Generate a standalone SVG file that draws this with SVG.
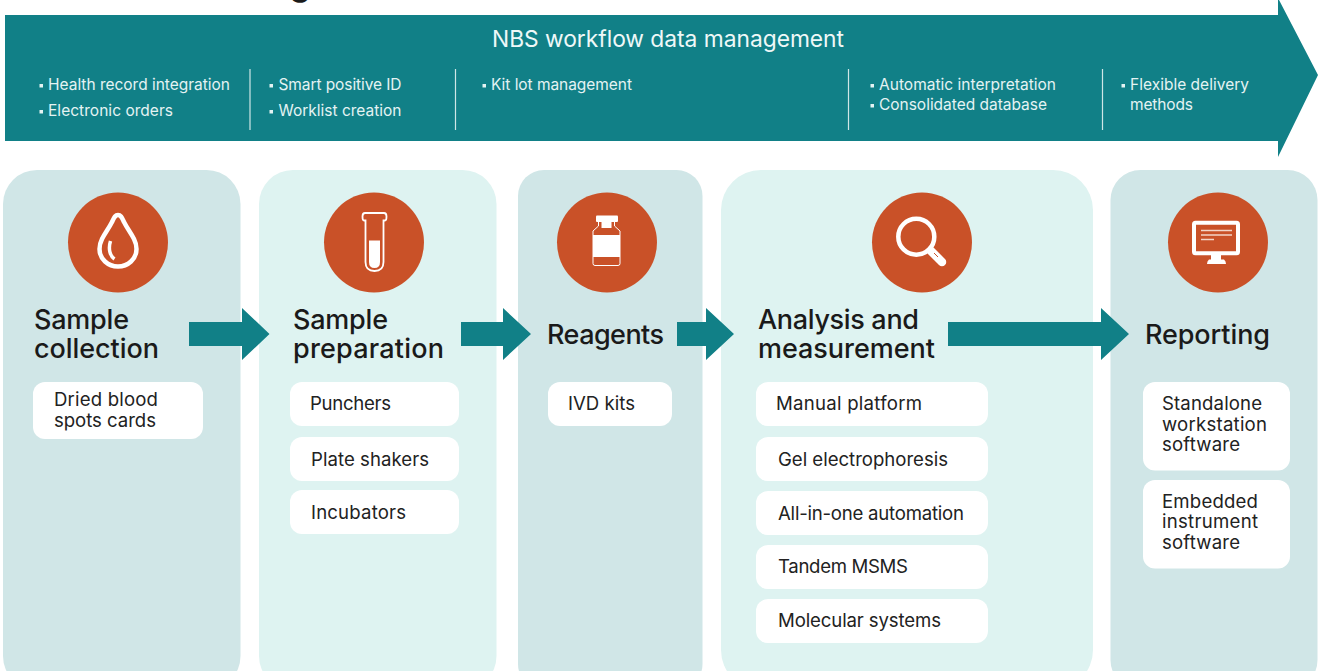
<svg xmlns="http://www.w3.org/2000/svg" width="1322" height="671" viewBox="0 0 1322 671">
<style>
text{font-family:"Inter","Liberation Sans",sans-serif;}
.banner{fill:#118087}
.pd{fill:#d0e6e7}.pl{fill:#def3f1}
.c{fill:#c95128}
.h{font-size:27px;fill:#1a1a1a;font-weight:500}
.i{font-size:18.6px;fill:#222}
.b{font-size:15.500px;fill:#e4f3f3}
.t{font-size:22.800px;fill:#eef8f8}
.box{fill:#fff}
.sep{stroke:#cfe6e6;stroke-width:1.2}
.bu{fill:#e4f3f3}
.w{fill:none;stroke:#fff}
.wf{fill:#fff}
.arrow{fill:#118087}
</style>
<rect width="1322" height="671" fill="#fff"/>
<text x="289" y="-5" font-size="36" fill="#1a1a1a">g</text>
<g id="banner">
<path class="banner" d="M5 15H1278V-2L1318 75L1278 157V141H5Z"/>
<text class="t" x="492" y="47" textLength="352">NBS workflow data management</text>
<path class="bu" d="M39.500 84h3.500v3.500h-3.500zM39.500 110h3.500v3.500h-3.500zM269.500 84h3.500v3.500h-3.500zM269.500 110h3.500v3.500h-3.500zM482.500 84h3.500v3.500h-3.500zM870.500 84h3.500v3.500h-3.500zM870.500 104h3.500v3.500h-3.500zM1121.500 84h3.500v3.500h-3.500z"/>
<text class="b" x="48" y="90" textLength="182">Health record integration</text>
<text class="b" x="48" y="116" textLength="125">Electronic orders</text>
<text class="b" x="278.500" y="90" textLength="123">Smart positive ID</text>
<text class="b" x="278.500" y="116" textLength="123">Worklist creation</text>
<text class="b" x="491" y="90" textLength="141">Kit lot management</text>
<text class="b" x="879" y="90" textLength="177">Automatic interpretation</text>
<text class="b" x="879" y="110" textLength="168">Consolidated database</text>
<text class="b" x="1130" y="90" textLength="119">Flexible delivery</text>
<text class="b" x="1130" y="110" textLength="63">methods</text>
<path class="sep" d="M250 69V130M455.500 69V130M848.500 69V130M1102.500 69V130"/>
</g>
<g id="sample-collection">
<rect class="pd" x="3" y="170" width="237.500" height="520" rx="34"/>
<circle class="c" cx="118" cy="242.500" r="50"/>
<path class="w" stroke-width="4.500" d="M118 215C121 215 122 218 124 222C127 228 131 233 134 239C136 243 136.500 246 136.500 249C136.500 259 128 266.500 118 266.500C108 266.500 99.500 259 99.500 249C99.500 246 100 243 102 239C105 233 109 228 112 222C114 218 115 215 118 215Z"/>
<path class="w" stroke-width="3.500" d="M110.500 241C108 249 110 256 114.500 259"/>
<text class="h" x="34" y="329" textLength="95">Sample</text><text class="h" x="34" y="358" textLength="125">collection</text>
<rect class="box" x="33" y="382" width="170" height="57" rx="12"/>
<text class="i" x="54" y="406" textLength="104">Dried blood</text><text class="i" x="54" y="427" textLength="102">spots cards</text>
</g>
<g id="sample-preparation">
<rect class="pl" x="259" y="170" width="237.500" height="520" rx="34"/>
<circle class="c" cx="374" cy="242.500" r="50"/>
<path class="w" stroke-width="1.800" d="M365.500 220.500H364Q362.500 220.500 362.500 216.500Q362.500 213 365 213H384Q386.500 213 386.500 216.500Q386.500 220.500 385 220.500H383.500V262Q383.500 271 374.500 271Q365.500 271 365.500 262Z"/>
<path class="wf" d="M369 240.500H380V262Q380 268 374.500 268Q369 268 369 262Z"/>
<text class="h" x="293" y="329" textLength="95">Sample</text><text class="h" x="293" y="358" textLength="151">preparation</text>
<rect class="box" x="290" y="382" width="169" height="44" rx="12"/>
<text class="i" x="310" y="410" textLength="81">Punchers</text>
<rect class="box" x="290" y="437" width="169" height="44" rx="12"/>
<text class="i" x="311" y="466" textLength="118">Plate shakers</text>
<rect class="box" x="290" y="490" width="169" height="44" rx="12"/>
<text class="i" x="311" y="519" textLength="95">Incubators</text>
</g>
<g id="reagents">
<rect class="pd" x="518" y="170" width="184.500" height="520" rx="26"/>
<circle class="c" cx="607" cy="242.500" r="50"/>
<path class="wf" d="M597 215.500H617Q618 215.500 618 216.500V221Q618 222 617 222H597Q596 222 596 221V216.500Q596 215.500 597 215.500Z"/>
<path class="w" stroke-width="1" d="M598.500 222V226L593 231V263.500Q593 265.500 595 265.500H618Q620 265.500 620 263.500V231L614.500 226V222"/>
<path class="wf" d="M593 235H620V257H593ZM601.500 222H611.500V228H601.500Z"/>
<text class="h" x="547" y="344" textLength="117">Reagents</text>
<rect class="box" x="548" y="382" width="124" height="44" rx="12"/>
<text class="i" x="568" y="410" textLength="67">IVD kits</text>
</g>
<g id="analysis">
<rect class="pl" x="721" y="170" width="372" height="520" rx="40"/>
<circle class="c" cx="922" cy="242.500" r="50"/>
<circle class="w" stroke-width="4.500" cx="916.300" cy="236.700" r="18"/>
<path fill="none" stroke="#fff" stroke-width="8.500" stroke-linecap="round" d="M931 251L942 262"/>
<path fill="none" stroke="#c95128" stroke-width="1" d="M934 253L938 257"/>
<text class="h" x="758" y="329" textLength="161">Analysis and</text><text class="h" x="758" y="358" textLength="177">measurement</text>
<rect class="box" x="756" y="382" width="232" height="44" rx="12"/>
<text class="i" x="776" y="410" textLength="146">Manual platform</text>
<rect class="box" x="756" y="437" width="232" height="44" rx="12"/>
<text class="i" x="778" y="466" textLength="170">Gel electrophoresis</text>
<rect class="box" x="756" y="491" width="232" height="44" rx="12"/>
<text class="i" x="778" y="520" textLength="186">All-in-one automation</text>
<rect class="box" x="756" y="545" width="232" height="44" rx="12"/>
<text class="i" x="778" y="573" textLength="130">Tandem MSMS</text>
<rect class="box" x="756" y="599" width="232" height="44" rx="12"/>
<text class="i" x="778" y="627" textLength="163">Molecular systems</text>
</g>
<g id="reporting">
<rect class="pd" x="1110.500" y="170" width="207" height="520" rx="30"/>
<circle class="c" cx="1218" cy="242.500" r="50"/>
<rect class="w" stroke-width="4" x="1194" y="222.700" width="44" height="30.500" rx="1.500"/>
<path class="wf" d="M1211 255H1221V259.500H1224Q1226 261 1226 264H1207Q1207 261 1209 259.500H1211Z"/>
<path stroke="#f3d5c8" stroke-width="1.500" d="M1201 230.500H1232M1201 235H1232M1201 239.500H1214"/>
<text class="h" x="1145" y="344" textLength="125">Reporting</text>
<rect class="box" x="1143" y="382" width="147" height="88.500" rx="12"/>
<text class="i" x="1162" y="410" textLength="100">Standalone</text><text class="i" x="1162" y="431" textLength="105">workstation</text><text class="i" x="1162" y="451" textLength="78">software</text>
<rect class="box" x="1143" y="480" width="147" height="88.500" rx="12"/>
<text class="i" x="1162" y="508" textLength="96">Embedded</text><text class="i" x="1162" y="528" textLength="96">instrument</text><text class="i" x="1162" y="549" textLength="78">software</text>
</g>
<g id="connectors">
<path class="arrow" d="M189 322H242V308L269.500 334L242 360V346H189Z"/>
<path class="arrow" d="M461 322H503V308L531 334L503 360V346H461Z"/>
<path class="arrow" d="M677 322H706V308L734 334L706 360V346H677Z"/>
<path class="arrow" d="M948 322H1101V308L1129 334L1101 360V346H948Z"/>
</g>
</svg>
